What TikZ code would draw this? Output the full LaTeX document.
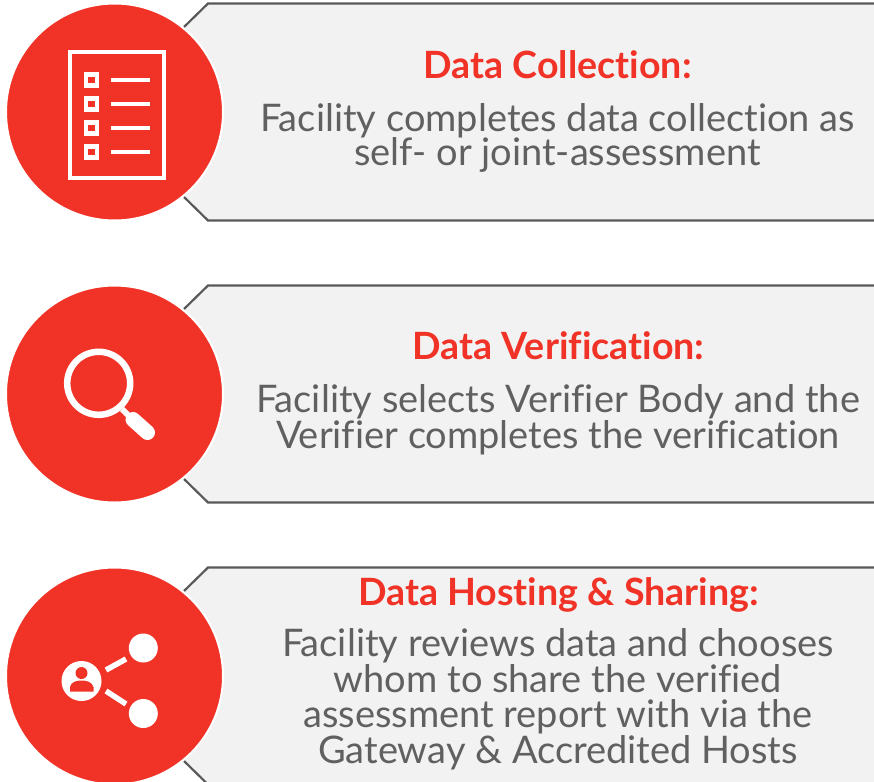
\documentclass[tikz,border=0pt]{standalone}
\usepackage{fontspec}
\setmainfont{Lato}[Ligatures=NoCommon]
\definecolor{brandred}{HTML}{F13327}
\definecolor{panelfill}{HTML}{F2F2F2}
\definecolor{panelline}{HTML}{595959}
\definecolor{bodytext}{HTML}{606060}
\tikzset{
  x=1pt,y=-1pt,
  panel/.style={fill=panelfill,draw=panelline,line width=2.2pt,line join=miter},
  disc/.style={circle,fill=brandred,draw=white,line width=2pt,minimum size=217pt,inner sep=0pt},
  titletext/.style={text=brandred,font=\fontsize{37.6}{40}\selectfont\bfseries,anchor=center,inner sep=0pt},
  bodyblock/.style={text=bodytext,align=center,anchor=center,inner sep=0pt,font=\fontsize{38}{35.5}\selectfont},
  iconline/.style={draw=white,line width=2.6pt},
  iconfill/.style={fill=white,draw=none}
}
\newcommand{\panelat}[1]{\path[panel] (184,#1-85) -- (208,#1-108.5) -- (880,#1-108.5) -- (880,#1+108.5) -- (208,#1+108.5) -- (184,#1+85);}
\begin{document}
\begin{tikzpicture}
\useasboundingbox (0,0) rectangle (874,781);
\panelat{112}
\panelat{394}
\panelat{676}
\node[disc] (d1) at (114.5,112) {};
\node[disc] (d2) at (114.5,394) {};
\node[disc] (d3) at (114.5,676) {};

\node[titletext] (t1) at (557.5,64.5) {Data Collection:};
\node[bodyblock] (b1) at (557.5,138) {Facility completes data collection as\\[-1.5pt]self- or joint-assessment};
\node[titletext] (t2) at (558.5,345.5) {Data Verification:};
\node[bodyblock] (b2) at (558,420) {Facility selects Verifier Body and the\\Verifier completes the verification};
\node[titletext] (t3) at (558.5,594.5) {Data Hosting \& Sharing:};
\node[bodyblock] (b3) at (558,699.5) {Facility reviews data and chooses\\whom to share the verified\\assessment report with via the\\Gateway \& Accredited Hosts};

% checklist icon
\draw[draw=white,line width=4pt] (70,52) rectangle (164,178);
\foreach \yy in {80,104,128,152}{
  \draw[draw=white,line width=4.5pt] (86,\yy-5.5) rectangle (97,\yy+5.5);
  \draw[iconline,line width=4.5pt] (111,\yy) -- (150,\yy);
}
% magnifier icon
\draw[draw=white,line width=6.5pt] (98.7,383.3) circle (31.5);
\draw[draw=white,line width=6pt] (122,409) -- (132,419);
\draw[draw=white,line width=15pt,line cap=round] (133,419.5) -- (147.5,432.5);
% share icon
\fill[iconfill] (81.5,681) circle (20);
\fill[iconfill] (143.3,648) circle (14.5);
\fill[iconfill] (143.3,713.5) circle (14.5);
\draw[iconline,line width=5.5pt] (106,670) -- (126,659);
\draw[iconline,line width=5.5pt] (106,691) -- (126,704);
\fill[brandred] (81.5,673) circle (6);
\fill[brandred] (70,691.5) -- (70,687) .. controls (71,682) and (76,680.5) .. (81.5,680.5) .. controls (87,680.5) and (92,682) .. (93.5,687) -- (93.5,691.5) -- cycle;
\end{tikzpicture}
\end{document}
